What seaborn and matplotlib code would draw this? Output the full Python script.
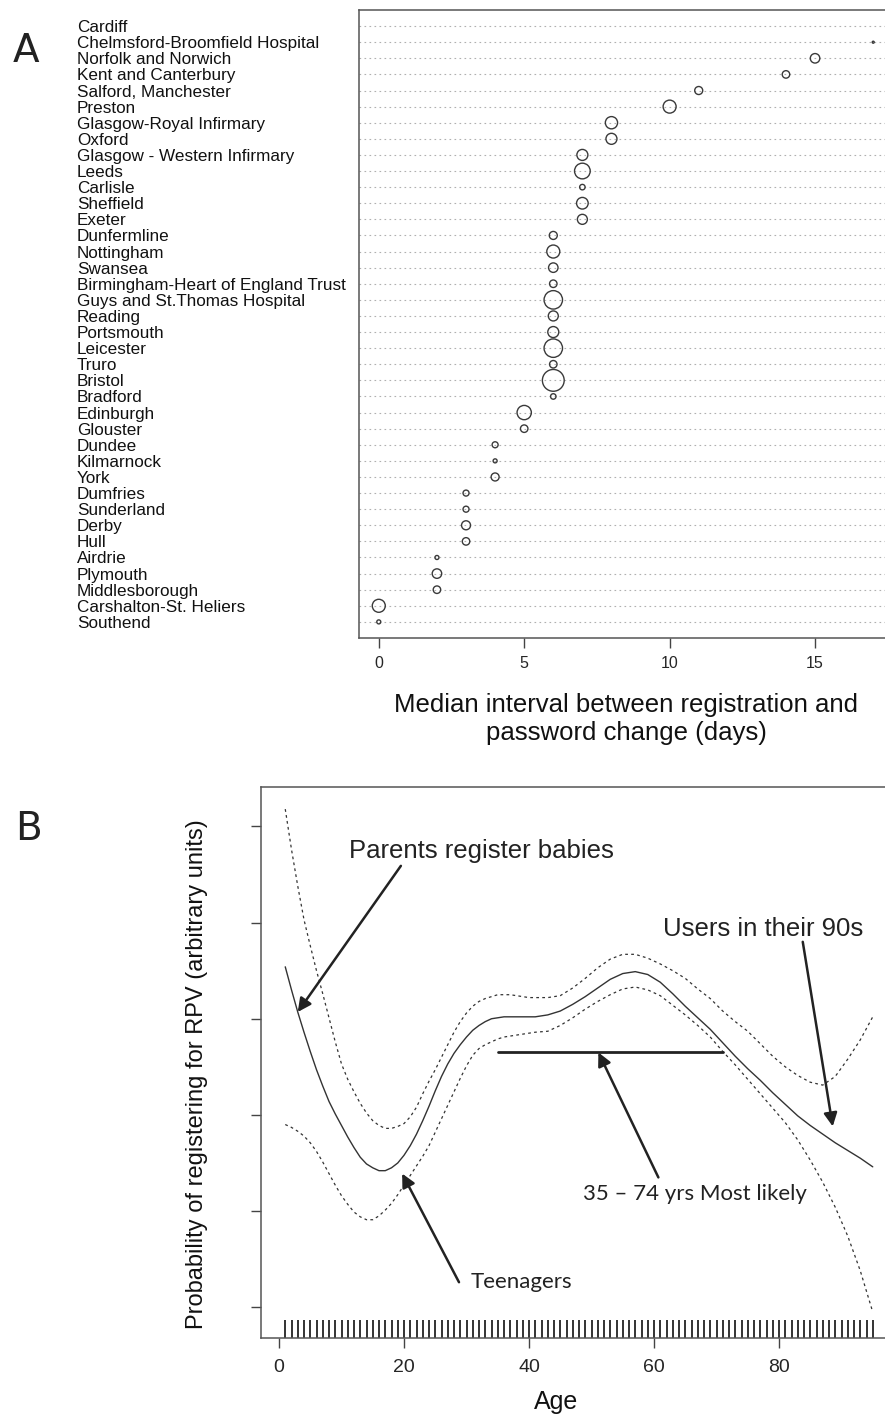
import numpy as np
import pandas as pd
import matplotlib
matplotlib.use("Agg")
import matplotlib.pyplot as plt
import seaborn as sns

# ---- Panel A data: median interval by site ----
sites = ["Cardiff", "Chelmsford-Broomfield Hospital", "Norfolk and Norwich",
         "Kent and Canterbury", "Salford, Manchester", "Preston",
         "Glasgow-Royal Infirmary", "Oxford", "Glasgow - Western Infirmary",
         "Leeds", "Carlisle", "Sheffield", "Exeter", "Dunfermline",
         "Nottingham", "Swansea", "Birmingham-Heart of England Trust",
         "Guys and St.Thomas Hospital", "Reading", "Portsmouth", "Leicester",
         "Truro", "Bristol", "Bradford", "Edinburgh", "Glouster", "Dundee",
         "Kilmarnock", "York", "Dumfries", "Sunderland", "Derby", "Hull",
         "Airdrie", "Plymouth", "Middlesborough", "Carshalton-St. Heliers",
         "Southend"]
median_days = [np.nan, 17, 15, 14, 11, 10, 8, 8, 7, 7, 7, 7, 7, 6, 6, 6, 6, 6,
               6, 6, 6, 6, 6, 6, 5, 5, 4, 4, 4, 3, 3, 3, 3, 2, 2, 2, 0, 0]
# relative number of registrations (drives circle area)
site_users = [np.nan, 4, 90, 56, 64, 169, 150, 121, 121, 246, 30, 135, 100, 64,
              169, 90, 56, 340, 100, 121, 340, 56, 475, 30, 204, 56, 36, 16, 64,
              36, 36, 81, 56, 16, 90, 56, 169, 16]

# ---- Panel B data: fitted probability by age ----
curve_age = [1, 2, 3, 4, 5, 6, 7, 8, 9, 10, 11, 12, 13, 14, 15, 16, 17, 18, 19,
             20, 21, 22, 23, 24, 25, 26, 27, 28, 29, 30, 31, 32, 33, 34, 35, 36,
             37, 38, 39, 40, 41, 43, 45, 47, 49, 51, 53, 55, 57, 59, 61, 63, 65,
             67, 69, 71, 73, 75, 77, 79, 81, 83, 85, 87, 89, 91, 93, 95]
fit = [3.54, 3.30, 3.07, 2.86, 2.66, 2.47, 2.30, 2.14, 2.01, 1.89, 1.77, 1.66,
       1.56, 1.49, 1.45, 1.42, 1.42, 1.45, 1.50, 1.58, 1.68, 1.80, 1.94, 2.09,
       2.25, 2.40, 2.53, 2.64, 2.73, 2.81, 2.88, 2.93, 2.97, 3.00, 3.01, 3.02,
       3.02, 3.02, 3.02, 3.02, 3.02, 3.04, 3.08, 3.15, 3.23, 3.32, 3.41, 3.47,
       3.49, 3.46, 3.38, 3.26, 3.13, 3.01, 2.89, 2.75, 2.61, 2.48, 2.36, 2.23,
       2.11, 1.99, 1.89, 1.80, 1.71, 1.63, 1.55, 1.46]
upper = [5.18, 4.76, 4.38, 4.03, 3.76, 3.50, 3.26, 3.01, 2.76, 2.53, 2.37, 2.24,
         2.12, 2.02, 1.94, 1.89, 1.86, 1.86, 1.88, 1.91, 1.98, 2.08, 2.22, 2.35,
         2.47, 2.60, 2.73, 2.86, 2.97, 3.06, 3.13, 3.18, 3.21, 3.23, 3.25, 3.25,
         3.25, 3.24, 3.23, 3.22, 3.22, 3.22, 3.24, 3.32, 3.42, 3.53, 3.62, 3.67,
         3.67, 3.63, 3.57, 3.50, 3.42, 3.31, 3.21, 3.08, 2.97, 2.87, 2.74, 2.61,
         2.50, 2.41, 2.34, 2.31, 2.40, 2.58, 2.78, 3.02]
lower = [1.90, 1.87, 1.83, 1.78, 1.71, 1.62, 1.51, 1.39, 1.27, 1.16, 1.07, 0.99,
         0.94, 0.91, 0.91, 0.95, 1.01, 1.08, 1.17, 1.27, 1.37, 1.47, 1.57, 1.68,
         1.82, 1.96, 2.10, 2.24, 2.38, 2.51, 2.62, 2.69, 2.73, 2.76, 2.79, 2.81,
         2.82, 2.83, 2.84, 2.85, 2.86, 2.87, 2.93, 3.01, 3.10, 3.18, 3.25, 3.31,
         3.33, 3.30, 3.24, 3.14, 3.04, 2.93, 2.81, 2.66, 2.52, 2.37, 2.22, 2.07,
         1.92, 1.74, 1.53, 1.30, 1.04, 0.74, 0.38, -0.05]
rug_ages = list(range(1, 96))
likely_range = [35, 71]
likely_level = 2.65

sns.set_style("white")
plt.rcParams["font.family"] = ["Liberation Sans", "DejaVu Sans"]

fig = plt.figure(figsize=(8.85, 14.25), dpi=100)

# ================= Panel A =================
df_a = pd.DataFrame({"site": sites, "days": median_days, "users": site_users})
df_a["row"] = np.arange(len(df_a))[::-1] + 1

ax1 = fig.add_axes([359 / 885, 1 - 638 / 1425, (893 - 359) / 885, 628 / 1425])
px = 0.72  # points per pixel
sns.scatterplot(data=df_a, x="days", y="row", size="users",
                sizes=((px * 2) ** 2, (px * 21.8) ** 2), size_norm=(4, 475),
                facecolor="none", edgecolor="#3a3a3a", linewidth=1.0,
                legend=False, ax=ax1, zorder=3)
ax1.set_xlim(-0.68, 17.68)
ax1.set_ylim(0, len(sites) + 1)
ax1.set_yticks(df_a["row"], df_a["site"])
for lbl in ax1.get_yticklabels():
    lbl.set_ha("left")
ax1.tick_params(axis="y", length=0, pad=(359 - 77) * px, labelsize=12.3,
                labelcolor="#111111")
ax1.grid(axis="y", color="#b0b0b0", linestyle=(0, (1.5, 3)), linewidth=0.8)
ax1.set_xticks([0, 5, 10, 15])
ax1.tick_params(axis="x", length=7, width=1, color="#444444", pad=6,
                labelsize=11.5, bottom=True)
ax1.set_xlabel("Median interval between registration and\npassword change (days)",
               fontsize=18.5, labelpad=16, linespacing=1.2, color="#111111")
ax1.set_ylabel("")
for sp in ax1.spines.values():
    sp.set_color("#555555")
    sp.set_linewidth(1.1)

# ================= Panel B =================
df_b = pd.DataFrame({"age": curve_age, "fit": fit, "upper": upper, "lower": lower})

ax2 = fig.add_axes([261 / 885, 1 - 1338 / 1425, (896 - 261) / 885, 551 / 1425])
sns.lineplot(data=df_b, x="age", y="fit", color="#333333", linewidth=1.0, ax=ax2)
for col in ["upper", "lower"]:
    sns.lineplot(data=df_b, x="age", y=col, color="#333333", linewidth=0.9,
                 linestyle=(0, (2.2, 2.6)), ax=ax2)
sns.rugplot(x=rug_ages, height=0.033, color="#111111", linewidth=1.2, ax=ax2)

ax2.plot(likely_range, [likely_level, likely_level], color="#222222", linewidth=2.0)

arrow = dict(arrowstyle="-|>", color="#222222", lw=1.8, mutation_scale=20,
             shrinkA=0, shrinkB=0)
ax2.annotate("", xy=(3.0, 3.07), xytext=(19.5, 4.59), arrowprops=arrow)
ax2.annotate("", xy=(19.7, 1.39), xytext=(28.8, 0.26), arrowprops=arrow)
ax2.annotate("", xy=(51.1, 2.65), xytext=(60.7, 1.35), arrowprops=arrow)
ax2.annotate("", xy=(88.6, 1.88), xytext=(83.8, 3.80), arrowprops=arrow)

ax2.text(11.2, 4.67, "Parents register babies", fontsize=18.5, color="#222222",
         va="baseline")
ax2.text(61.4, 3.86, "Users in their 90s", fontsize=18.5, color="#222222",
         va="baseline")
ax2.text(48.6, 1.12, "35 \u2013 74 yrs Most likely", fontsize=16, color="#222222",
         va="baseline", family=["Lato", "DejaVu Sans"])
ax2.text(30.6, 0.20, "Teenagers", fontsize=16, color="#222222", va="baseline",
         family=["Lato", "DejaVu Sans"])

ax2.set_xlim(-2.88, 98.72)
ax2.set_ylim(-0.32, 5.41)
ax2.set_xticks([0, 20, 40, 60, 80])
ax2.set_yticks([0, 1, 2, 3, 4, 5])
ax2.set_yticklabels([])
ax2.tick_params(axis="x", length=7, width=1, color="#444444", pad=8,
                labelsize=14, bottom=True)
ax2.tick_params(axis="y", length=7, width=1, color="#444444", left=True)
ax2.set_xlabel("Age", fontsize=18, labelpad=14, color="#111111")
ax2.xaxis.set_label_coords((556 - 261) / 635, -0.095)
ax2.set_ylabel("Probability of registering for RPV (arbitrary units)",
               fontsize=17, color="#111111")
ax2.yaxis.set_label_coords(-0.083, 0.479)
for sp in ax2.spines.values():
    sp.set_color("#555555")
    sp.set_linewidth(1.1)

# panel letters
fig.text(13 / 885, 1 - 62 / 1425, "A", fontsize=28, color="#222222",
         family=["Liberation Sans Narrow", "DejaVu Sans"], va="baseline")
fig.text(15 / 885, 1 - 840 / 1425, "B", fontsize=28, color="#222222",
         family=["Liberation Sans Narrow", "DejaVu Sans"], va="baseline")

fig.savefig("out.png", dpi=100)
